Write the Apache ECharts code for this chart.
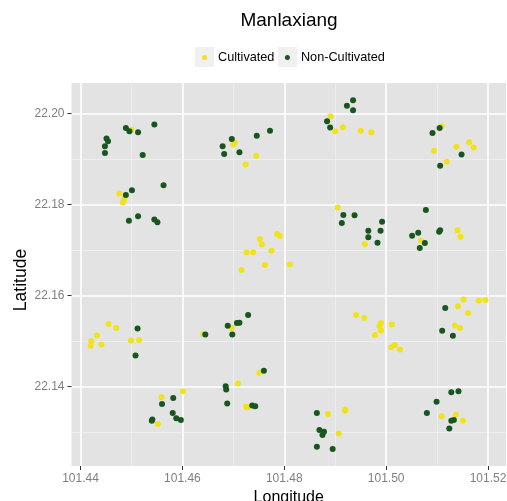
<!DOCTYPE html>
<html>
<head>
<meta charset="utf-8">
<script src="https://cdn.jsdelivr.net/npm/echarts@6/dist/echarts.min.js"></script>
<style>html,body{margin:0;padding:0;background:#fff}#chart{width:507px;height:501px}</style>
</head>
<body>
<div id="chart"></div>
<script>
// ---- Data ----
const titleText = 'Manlaxiang';
const seriesNames = ['Cultivated', 'Non-Cultivated'];

const cultivatedLon = [101.4500,101.4476,101.4486,101.4483,101.4891,101.4900,101.4915,101.4950,101.4971,101.4703,
  101.4700,101.4745,101.4724,101.4905,101.4752,101.4786,101.4791,101.4756,101.4726,101.4739,
  101.4775,101.4762,101.4811,101.4716,101.5109,101.5138,101.5163,101.5172,101.5094,101.5119,
  101.4958,101.5068,101.5140,101.5146,101.4455,101.4470,101.4432,101.4421,101.4420,101.4441,
  101.4499,101.4515,101.4641,101.4601,101.4559,101.4552,101.4697,101.4941,101.4751,101.4709,
  101.4725,101.4728,101.4886,101.4920,101.4919,101.4907,101.4957,101.4990,101.4987,101.4990,
  101.5011,101.4978,101.5017,101.5010,101.5027,101.5152,101.5141,101.5182,101.5195,101.5161,
  101.5135,101.5145,101.5109,101.5137,101.5151];
const cultivatedLat = [22.1964,22.1824,22.1812,22.1804,22.1994,22.1961,22.1970,22.1962,22.1959,22.1936,
  22.1932,22.1907,22.1888,22.1793,22.1724,22.1735,22.1731,22.1712,22.1695,22.1695,
  22.1698,22.1667,22.1668,22.1656,22.1972,22.1927,22.1937,22.1925,22.1918,22.1894,
  22.1713,22.1720,22.1743,22.1729,22.1537,22.1528,22.1512,22.1499,22.1489,22.1492,
  22.1501,22.1502,22.1515,22.1389,22.1376,22.1317,22.1528,22.1557,22.1430,22.1406,
  22.1355,22.1354,22.1339,22.1349,22.1346,22.1296,22.1550,22.1539,22.1532,22.1523,
  22.1536,22.1513,22.1491,22.1486,22.1481,22.1591,22.1576,22.1588,22.1590,22.1561,
  22.1534,22.1528,22.1334,22.1338,22.1325];

const nonCultLon = [101.4489,101.4496,101.4513,101.4545,101.4451,101.4454,101.4448,101.4448,101.4522,101.4563,
  101.4501,101.4489,101.4513,101.4495,101.4545,101.4551,101.4935,101.4923,101.4935,101.4884,
  101.4890,101.4772,101.4746,101.4697,101.4679,101.4682,101.4712,101.4916,101.4938,101.4913,
  101.5105,101.5091,101.5148,101.5106,101.5078,101.4992,101.4965,101.4989,101.4965,101.4983,
  101.5106,101.5104,101.5063,101.5051,101.5076,101.5066,101.4512,101.4508,101.4645,101.4582,
  101.4560,101.4581,101.4588,101.4597,101.4541,101.4540,101.4729,101.4689,101.4707,101.4712,
  101.4698,101.4760,101.4685,101.4686,101.4688,101.4737,101.4743,101.4864,101.4869,101.4878,
  101.4875,101.4864,101.4895,101.5116,101.5110,101.5131,101.5128,101.5142,101.5099,101.5080,
  101.5128,101.5133,101.5124];
const nonCultLat = [22.1968,22.1961,22.1959,22.1976,22.1945,22.1939,22.1928,22.1913,22.1909,22.1842,
  22.1831,22.1821,22.1774,22.1764,22.1767,22.1761,22.2029,22.2017,22.2007,22.1983,
  22.1969,22.1962,22.1951,22.1944,22.1928,22.1911,22.1915,22.1777,22.1776,22.1759,
  22.1968,22.1957,22.1910,22.1885,22.1788,22.1762,22.1742,22.1742,22.1728,22.1716,
  22.1743,22.1740,22.1738,22.1731,22.1715,22.1704,22.1527,22.1468,22.1514,22.1374,
  22.1361,22.1341,22.1330,22.1326,22.1327,22.1324,22.1557,22.1533,22.1539,22.1540,
  22.1514,22.1434,22.1400,22.1393,22.1362,22.1358,22.1356,22.1341,22.1304,22.1300,
  22.1293,22.1267,22.1262,22.1572,22.1522,22.1511,22.1387,22.1389,22.1366,22.1341,
  22.1324,22.1326,22.1307];

const xTicks = [101.44, 101.46, 101.48, 101.50, 101.52];
const xMinorTicks = [101.45, 101.47, 101.49, 101.51];
const yTicks = [22.14, 22.16, 22.18, 22.20];
const yMinorTicks = [22.13, 22.15, 22.17, 22.19];
const xRange = [101.43823, 101.52353];
const yRange = [22.12247, 22.20671];

// ---- Chart ----
const FONT = 'Liberation Sans, Arial, Helvetica, sans-serif';
const colors = ['#F2E21B', '#17571F'];
const zip = (a, b) => a.map((v, i) => [v, b[i]]);

const chart = echarts.init(document.getElementById('chart'), null, {renderer: 'canvas'});

function majorAxis(ticks, range, name, isX) {
  return {
    type: 'value', min: range[0], max: range[1],
    name: name, nameLocation: 'middle', nameGap: isX ? 19 : 41,
    nameMoveOverlap: isX ? true : false,
    nameTextStyle: isX
      ? {fontFamily: FONT, fontSize: 16, color: '#000'}
      : {fontFamily: FONT, fontSize: 17.5, color: '#000', padding: [0, 11, 0, 0]},
    axisLine: {show: false},
    axisTick: {show: true, length: 4, lineStyle: {color: '#333333', width: 1}, customValues: ticks},
    axisLabel: {show: true, margin: 7, fontFamily: FONT, fontSize: 12, color: '#7F7F7F',
      customValues: ticks, formatter: v => Number(v).toFixed(2)},
    splitLine: {show: true, lineStyle: {color: '#FFFFFF', width: 1.6}},
    minorSplitLine: {show: false}
  };
}
function minorAxis(ticks, range) {
  return {
    type: 'value', min: range[0], max: range[1],
    axisLine: {show: false},
    axisTick: {show: false, customValues: ticks},
    axisLabel: {show: false, customValues: ticks},
    splitLine: {show: true, lineStyle: {color: '#F0F0F0', width: 0.8}}
  };
}

const option = {
  animation: false,
  backgroundColor: '#FFFFFF',
  title: {
    text: titleText, left: 289, top: 11, textAlign: 'center', padding: 0,
    textStyle: {fontFamily: FONT, fontSize: 19, fontWeight: 'normal', color: '#000'}
  },
  legend: {
    data: seriesNames, left: 202, top: 51, icon: 'circle',
    itemWidth: 5, itemHeight: 5, itemGap: 10.5, padding: 0,
    textStyle: {fontFamily: FONT, fontSize: 12.7, color: '#000', padding: [0, 0, 0, 6]}
  },
  graphic: [
    {type: 'rect', left: 195, top: 47, z: -1, shape: {width: 19, height: 20}, style: {fill: '#F0F0F0'}},
    {type: 'rect', left: 278, top: 47, z: -1, shape: {width: 19, height: 20}, style: {fill: '#F0F0F0'}}
  ],
  grid: {
    left: 71.5, right: 1, top: 83, bottom: 35,
    outerBoundsMode: 'none', containLabel: false,
    show: true, backgroundColor: '#E3E3E3', borderWidth: 0
  },
  xAxis: [majorAxis(xTicks, xRange, 'Longitude', true), minorAxis(xMinorTicks, xRange)],
  yAxis: [majorAxis(yTicks, yRange, 'Latitude', false), minorAxis(yMinorTicks, yRange)],
  series: [
    {name: seriesNames[0], type: 'scatter', data: zip(cultivatedLon, cultivatedLat),
      symbolSize: 6, itemStyle: {color: colors[0], opacity: 1}, z: 3},
    {name: seriesNames[1], type: 'scatter', data: zip(nonCultLon, nonCultLat),
      symbolSize: 6, itemStyle: {color: colors[1], opacity: 1}, z: 4}
  ]
};
option.xAxis[1].z = 0; option.yAxis[1].z = 0;
option.xAxis[0].z = 1; option.yAxis[0].z = 1;
chart.setOption(option);
</script>
</body>
</html>
